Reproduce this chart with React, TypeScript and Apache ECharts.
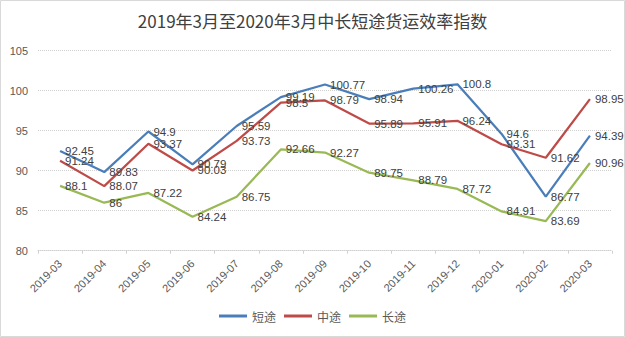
import React, { useEffect, useRef } from "react";
import * as echarts from "echarts";

const categories = ["2019-03","2019-04","2019-05","2019-06","2019-07","2019-08","2019-09","2019-10","2019-11","2019-12","2020-01","2020-02","2020-03"];
const shortHaul = [92.45, 89.83, 94.9, 90.79, 95.59, 99.19, 100.77, 98.94, 100.26, 100.8, 94.6, 86.77, 94.39];
const midHaul = [91.24, 88.07, 93.37, 90.03, 93.73, 98.5, 98.79, 95.89, 95.91, 96.24, 93.31, 91.62, 98.95];
const longHaul = [88.1, 86, 87.22, 84.24, 86.75, 92.66, 92.27, 89.75, 88.79, 87.72, 84.91, 83.69, 90.96];
const seriesNames = ["短途", "中途", "长途"];
const colors = ["#4A7EBB", "#BE4B48", "#98B954"];

const FONT = "'Noto Sans CJK SC', 'Liberation Sans', sans-serif";

export default function App() {
  const ref = useRef<HTMLDivElement>(null);
  useEffect(() => {
    document.body.style.margin = "0";
    const chart = echarts.init(ref.current!, null, { renderer: "svg" });
    const mk = (name: string, data: number[], color: string) => ({
      name,
      type: "line",
      data,
      symbol: "circle",
      symbolSize: 0,
      showSymbol: true,
      lineStyle: { color, width: 2.25 },
      itemStyle: { color },
      labelLayout: { hideOverlap: false },
      label: {
        show: true,
        position: "right",
        distance: 5,
        color: "#404040",
        fontSize: 11.5,
        fontFamily: "'Liberation Sans', sans-serif",
      },
    });
    chart.setOption({
      animation: false,
      textStyle: { fontFamily: FONT },
      title: {
        text: "2019年3月至2020年3月中长短途货运效率指数",
        left: "center",
        top: 7,
        textStyle: { fontSize: 17, fontWeight: "normal", color: "#404040", fontFamily: FONT },
      },
      graphic: [
        {
          type: "rect",
          shape: { x: 0.5, y: 0.5, width: 624, height: 336 },
          style: { fill: "none", stroke: "#D9D9D9", lineWidth: 1 },
          silent: true,
        },
      ],
      legend: {
        top: 305,
        left: "center",
        itemWidth: 28,
        itemHeight: 3,
        itemGap: 8,
        icon: "rect",
        textStyle: { fontSize: 12, color: "#595959", fontFamily: FONT },
        data: seriesNames,
      },
      grid: { left: 38, right: 13, top: 50.7, bottom: 86.3, containLabel: false },
      xAxis: {
        type: "category",
        data: categories,
        boundaryGap: true,
        axisLine: { show: true, lineStyle: { color: "#D0D0D0", type: "dotted" } },
        axisTick: { show: true, length: 3, lineStyle: { color: "#D0D0D0" } },
        axisLabel: { rotate: 45, fontSize: 11, color: "#595959", margin: 11, interval: 0, fontFamily: "'Liberation Sans', sans-serif" },
      },
      yAxis: {
        type: "value",
        min: 80,
        max: 105,
        interval: 5,
        axisLine: { show: false },
        axisTick: { show: false },
        splitLine: { lineStyle: { color: "#D0D0D0", type: "dotted" } },
        axisLabel: { fontSize: 11, color: "#595959", margin: 10, fontFamily: "'Liberation Sans', sans-serif" },
      },
      series: [
        mk(seriesNames[0], shortHaul, colors[0]),
        mk(seriesNames[1], midHaul, colors[1]),
        mk(seriesNames[2], longHaul, colors[2]),
      ],
    });
    return () => chart.dispose();
  }, []);
  return <div ref={ref} style={{ width: 625, height: 337 }} />;
}
